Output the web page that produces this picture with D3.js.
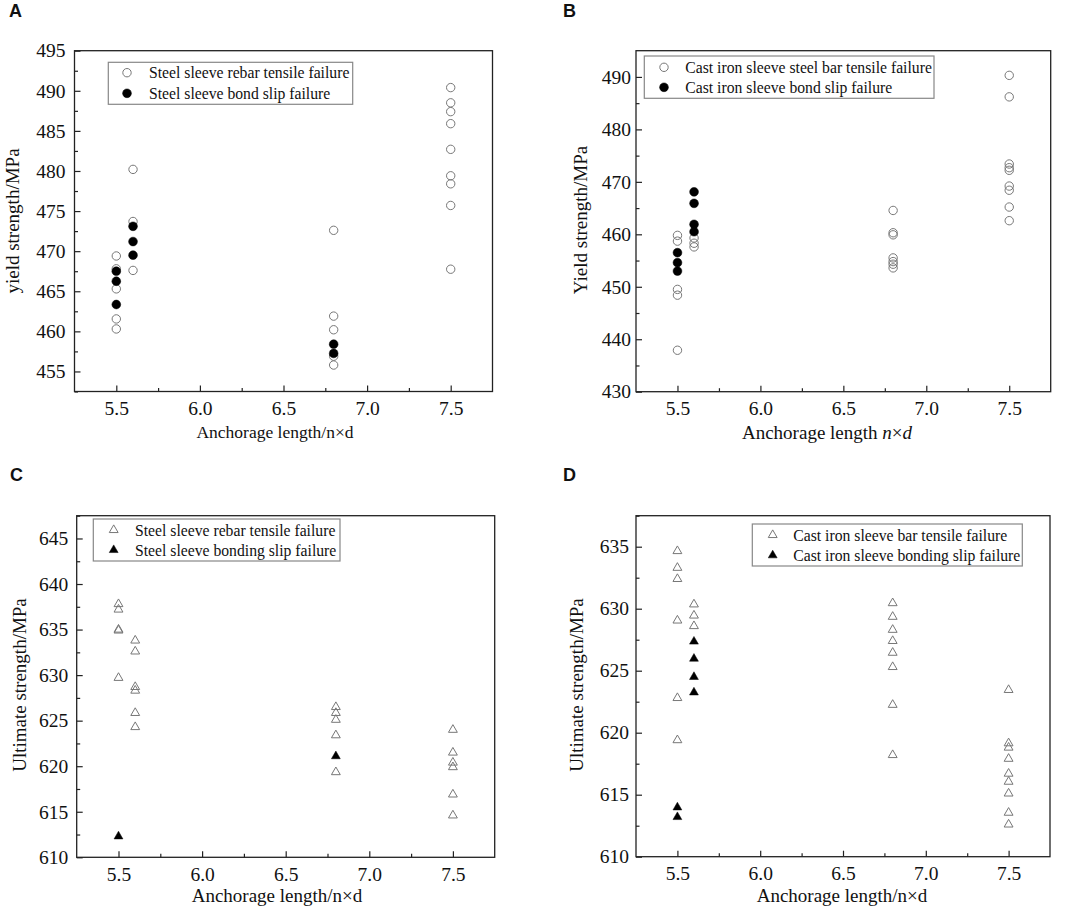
<!DOCTYPE html>
<html>
<head>
<meta charset="utf-8">
<script src="https://cdn.jsdelivr.net/npm/d3@7"></script>
<style>
  body { margin: 0; background: #fff; }
  svg text { font-family: "Liberation Serif", "Times New Roman", serif; fill: #111; }
</style>
</head>
<body>
<svg id="chart" width="1065" height="909"></svg>
<script>
// data: [anchorage length, strength]

// A - steel sleeve, yield strength
const aTensile = [
  [5.5, 469.4], [5.5, 467.8], [5.5, 465.3], [5.5, 461.55], [5.5, 460.3],
  [5.6, 480.2], [5.6, 473.7], [5.6, 467.6],
  [6.8, 472.6], [6.8, 461.9], [6.8, 460.2], [6.8, 456.9], [6.8, 455.8],
  [7.5, 490.4], [7.5, 488.5], [7.5, 487.4], [7.5, 485.9], [7.5, 482.7],
  [7.5, 479.4], [7.5, 478.4], [7.5, 475.7], [7.5, 467.75]
];
const aBond = [
  [5.5, 467.5], [5.5, 466.25], [5.5, 463.35],
  [5.6, 473.1], [5.6, 471.2], [5.6, 469.5],
  [6.8, 458.4], [6.8, 457.25]
];

// B - cast iron sleeve, yield strength
const bTensile = [
  [5.5, 459.8], [5.5, 458.7], [5.5, 449.5], [5.5, 448.4], [5.5, 437.9],
  [5.6, 459.3], [5.6, 458.3], [5.6, 457.6],
  [6.8, 464.55], [6.8, 460.3], [6.8, 459.9], [6.8, 455.5], [6.8, 454.8], [6.8, 454.3], [6.8, 453.6],
  [7.5, 490.3], [7.5, 486.2], [7.5, 473.4], [7.5, 472.7], [7.5, 472.2],
  [7.5, 469.2], [7.5, 468.4], [7.5, 465.2], [7.5, 462.6]
];
const bBond = [
  [5.5, 456.5], [5.5, 454.6], [5.5, 453.0],
  [5.6, 468.1], [5.6, 465.9], [5.6, 461.9], [5.6, 460.5]
];

// C - steel sleeve, ultimate strength
const cTensile = [
  [5.5, 637.8], [5.5, 637.2], [5.5, 635.0], [5.5, 634.9], [5.5, 629.7],
  [5.6, 633.8], [5.6, 632.6], [5.6, 628.7], [5.6, 628.3], [5.6, 625.85], [5.6, 624.3],
  [6.8, 626.5], [6.8, 625.85], [6.8, 625.1], [6.8, 623.4], [6.8, 619.35],
  [7.5, 624.0], [7.5, 621.5], [7.5, 620.4], [7.5, 619.9], [7.5, 616.9], [7.5, 614.6]
];
const cBond = [
  [5.5, 612.3],
  [6.8, 621.1]
];

// D - cast iron sleeve, ultimate strength
const dTensile = [
  [5.5, 634.65], [5.5, 633.3], [5.5, 632.4], [5.5, 629.05], [5.5, 622.8], [5.5, 619.4],
  [5.6, 630.35], [5.6, 629.45], [5.6, 628.6],
  [6.8, 630.45], [6.8, 629.35], [6.8, 628.3], [6.8, 627.4], [6.8, 626.45], [6.8, 625.3], [6.8, 622.25], [6.8, 618.2],
  [7.5, 623.45], [7.5, 619.15], [7.5, 618.8], [7.5, 617.9], [7.5, 616.7],
  [7.5, 616.05], [7.5, 615.1], [7.5, 613.55], [7.5, 612.6]
];
const dBond = [
  [5.5, 613.98], [5.5, 613.2],
  [5.6, 627.35], [5.6, 625.97], [5.6, 624.5], [5.6, 623.25]
];

// axes
const xTicks = [5.5, 6.0, 6.5, 7.0, 7.5];
const xMinor = [5.75, 6.25, 6.75, 7.25];
const aYTicks = [455, 460, 465, 470, 475, 480, 485, 490, 495];
const aYMinor = [452.5, 457.5, 462.5, 467.5, 472.5, 477.5, 482.5, 487.5, 492.5];
const bYTicks = [430, 440, 450, 460, 470, 480, 490];
const bYMinor = [435, 445, 455, 465, 475, 485];
const cYTicks = [610, 615, 620, 625, 630, 635, 640, 645];
const cYMinor = [612.5, 617.5, 622.5, 627.5, 632.5, 637.5, 642.5, 647.5];
const dYTicks = [610, 615, 620, 625, 630, 635];
const dYMinor = [612.5, 617.5, 622.5, 627.5, 632.5, 637.5];

const svg = d3.select("#chart");
const serif = "Liberation Serif, Times New Roman, serif";

function makePanel(p) {
  const x = d3.scaleLinear().domain([5.25, 7.75]).range([p.left, p.right]);
  const y = d3.scaleLinear().domain(p.yDomain).range([p.bottom, p.top]);
  const g = svg.append("g");

  // panel letter
  g.append("text")
    .attr("x", p.labelX).attr("y", p.labelY)
    .style("font-family", "Liberation Sans, Arial, sans-serif")
    .style("font-weight", "bold")
    .style("font-size", "18px")
    .text(p.label);

  // major + minor ticks, pointing inward
  g.append("g")
    .attr("transform", `translate(0,${p.bottom})`)
    .call(d3.axisBottom(x).tickValues(xTicks).tickFormat(d3.format(".1f"))
      .tickSizeInner(-6).tickSizeOuter(0).tickPadding(9.5))
    .attr("font-family", serif).attr("font-size", 19.5);
  g.append("g")
    .attr("transform", `translate(0,${p.bottom})`)
    .call(d3.axisBottom(x).tickValues(xMinor).tickFormat("")
      .tickSizeInner(-3.5).tickSizeOuter(0));

  g.append("g")
    .attr("transform", `translate(${p.left},0)`)
    .call(d3.axisLeft(y).tickValues(p.yTicks)
      .tickSizeInner(-6).tickSizeOuter(0).tickPadding(p.yPad))
    .attr("font-family", serif).attr("font-size", 19.5);
  g.append("g")
    .attr("transform", `translate(${p.left},0)`)
    .call(d3.axisLeft(y).tickValues(p.yMinor).tickFormat("")
      .tickSizeInner(-3.5).tickSizeOuter(0));

  g.selectAll(".domain").remove();
  g.selectAll(".tick line").attr("stroke", "#222").attr("stroke-width", 1.2);
  g.selectAll(".tick text").attr("fill", "#111");

  // frame
  g.append("rect")
    .attr("x", p.left).attr("y", p.top)
    .attr("width", p.right - p.left).attr("height", p.bottom - p.top)
    .attr("fill", "none").attr("stroke", "#222").attr("stroke-width", 1.3);

  // axis titles
  const xt = g.append("text")
    .attr("x", p.xTitleX).attr("y", p.xTitleY)
    .attr("text-anchor", "middle")
    .style("font-size", p.xTitleSize + "px");
  p.xTitle.forEach(part => {
    xt.append("tspan").style("font-style", part[1] ? "italic" : "normal").text(part[0]);
  });

  g.append("text")
    .attr("transform", `translate(${p.yTitleX},${p.yTitleY}) rotate(-90)`)
    .attr("text-anchor", "middle")
    .style("font-size", "19px")
    .text(p.yTitle);

  // markers
  const tri = d3.symbol().type(d3.symbolTriangle).size(34);
  function drawMarks(data, filled) {
    if (p.shape === "circle") {
      g.append("g").selectAll("circle")
        .data(data).join("circle")
        .attr("cx", d => x(d[0])).attr("cy", d => y(d[1]))
        .attr("r", filled ? 4.4 : 4.2)
        .attr("fill", filled ? "#000" : "none")
        .attr("stroke", filled ? "#000" : "#777")
        .attr("stroke-width", filled ? 0.5 : 1);
    } else {
      g.append("g").selectAll("path")
        .data(data).join("path")
        .attr("transform", d => `translate(${x(d[0])},${y(d[1])})`)
        .attr("d", tri)
        .attr("fill", filled ? "#000" : "none")
        .attr("stroke", filled ? "#000" : "#777")
        .attr("stroke-width", filled ? 0.5 : 1);
    }
  }
  drawMarks(p.open, false);
  drawMarks(p.filled, true);

  // legend
  const lg = g.append("g");
  lg.append("rect")
    .attr("x", p.legend.x0).attr("y", p.legend.y0)
    .attr("width", p.legend.x1 - p.legend.x0).attr("height", p.legend.y1 - p.legend.y0)
    .attr("fill", "#fff").attr("stroke", "#888").attr("stroke-width", 1.2);
  p.legendNames.forEach((name, i) => {
    const ry = p.legend.rows[i];
    const filled = i === 1;
    if (p.shape === "circle") {
      lg.append("circle")
        .attr("cx", p.legend.mx).attr("cy", ry).attr("r", filled ? 4.4 : 4.2)
        .attr("fill", filled ? "#000" : "none")
        .attr("stroke", filled ? "#000" : "#777").attr("stroke-width", filled ? 0.5 : 1);
    } else {
      lg.append("path")
        .attr("transform", `translate(${p.legend.mx},${ry})`)
        .attr("d", tri)
        .attr("fill", filled ? "#000" : "none")
        .attr("stroke", filled ? "#000" : "#777").attr("stroke-width", filled ? 0.5 : 1);
    }
    lg.append("text")
      .attr("x", p.legend.tx).attr("y", ry + 5.5)
      .style("font-size", "15.7px")
      .text(name);
  });
}

makePanel({
  label: "A", labelX: 9, labelY: 17,
  left: 74.5, right: 492.5, top: 50.7, bottom: 391.5,
  yDomain: [452.5, 495], yTicks: aYTicks, yMinor: aYMinor, yPad: 9,
  xTitle: [["Anchorage length/n×d", false]], xTitleX: 275, xTitleY: 438, xTitleSize: 17.5,
  yTitle: "yield strength/MPa", yTitleX: 19, yTitleY: 221,
  shape: "circle", open: aTensile, filled: aBond,
  legendNames: ["Steel sleeve rebar tensile failure", "Steel sleeve bond slip failure"],
  legend: { x0: 108.3, y0: 62.3, x1: 352.7, y1: 104.3, mx: 127, tx: 149, rows: [72.7, 93.3] }
});

makePanel({
  label: "B", labelX: 563, labelY: 17,
  left: 636, right: 1050.7, top: 50.7, bottom: 391.7,
  yDomain: [430, 495], yTicks: bYTicks, yMinor: bYMinor, yPad: 5,
  xTitle: [["Anchorage length ", false], ["n", true], ["×", false], ["d", true]],
  xTitleX: 827, xTitleY: 438.5, xTitleSize: 19,
  yTitle: "Yield strength/MPa", yTitleX: 587, yTitleY: 220,
  shape: "circle", open: bTensile, filled: bBond,
  legendNames: ["Cast iron sleeve steel bar tensile failure", "Cast iron sleeve bond slip failure"],
  legend: { x0: 644.3, y0: 56, x1: 934, y1: 98.3, mx: 664, tx: 685.3, rows: [67.3, 87.3] }
});

makePanel({
  label: "C", labelX: 10, labelY: 481,
  left: 76.7, right: 494.7, top: 515.7, bottom: 857.3,
  yDomain: [610, 647.5], yTicks: cYTicks, yMinor: cYMinor, yPad: 8.5,
  xTitle: [["Anchorage length/n×d", false]], xTitleX: 277, xTitleY: 902, xTitleSize: 19,
  yTitle: "Ultimate strength/MPa", yTitleX: 26, yTitleY: 685,
  shape: "triangle", open: cTensile, filled: cBond,
  legendNames: ["Steel sleeve rebar tensile failure", "Steel sleeve bonding slip failure"],
  legend: { x0: 93.3, y0: 519, x1: 340, y1: 561, mx: 113.7, tx: 135, rows: [530, 550] }
});

makePanel({
  label: "D", labelX: 563, labelY: 481,
  left: 636, right: 1050, top: 515.7, bottom: 856.7,
  yDomain: [610, 637.5], yTicks: dYTicks, yMinor: dYMinor, yPad: 7,
  xTitle: [["Anchorage length/n×d", false]], xTitleX: 842, xTitleY: 901.5, xTitleSize: 19,
  yTitle: "Ultimate strength/MPa", yTitleX: 583, yTitleY: 685,
  shape: "triangle", open: dTensile, filled: dBond,
  legendNames: ["Cast iron sleeve bar tensile failure", "Cast iron sleeve bonding slip failure"],
  legend: { x0: 752.3, y0: 524, x1: 1022.3, y1: 566, mx: 772.7, tx: 793.3, rows: [535, 555.3] }
});
</script>
</body>
</html>
